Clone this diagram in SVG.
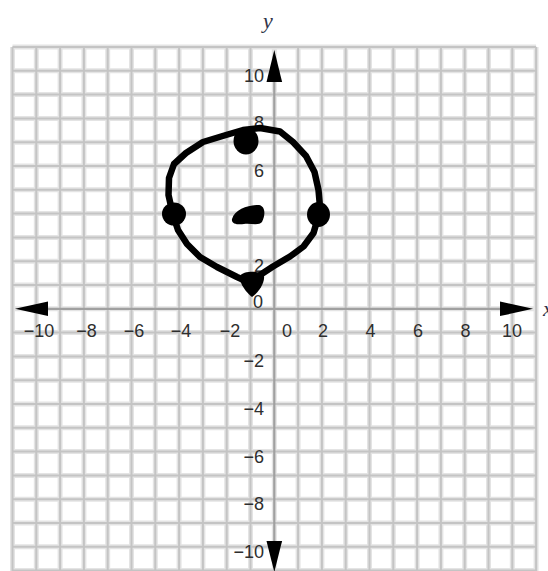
<svg xmlns="http://www.w3.org/2000/svg" width="548" height="571" viewBox="0 0 548 571">
<style>
.halo{stroke:#e4e4e4;stroke-width:5;fill:none}
.grid{stroke:#c4c4c4;stroke-width:2;fill:none}
.axis{stroke:#a0a0a0;stroke-width:2.2;fill:none}
.lbl{font-family:"Liberation Sans",Arial,sans-serif;font-size:18px;fill:#2e2e2e}
.xl{text-anchor:middle}
.yl{text-anchor:end}
.var{font-family:"Liberation Serif","Times New Roman",serif;font-style:italic;font-size:22px;fill:#2f3348}
.ink{fill:#000}
</style>
<rect width="548" height="571" fill="#fff"/>
<g id="grid">
<path class="halo" d="M12.5 47V571M36.3 47V571M60.1 47V571M83.9 47V571M107.7 47V571M131.5 47V571M155.3 47V571M179.1 47V571M202.9 47V571M226.7 47V571M250.5 47V571M274.3 47V571M298.1 47V571M321.9 47V571M345.7 47V571M369.5 47V571M393.3 47V571M417.1 47V571M440.9 47V571M464.7 47V571M488.5 47V571M512.3 47V571M536.1 47V571M12.5 47H536.1M12.5 70.8H536.1M12.5 94.6H536.1M12.5 118.4H536.1M12.5 142.2H536.1M12.5 166H536.1M12.5 189.8H536.1M12.5 213.6H536.1M12.5 237.4H536.1M12.5 261.2H536.1M12.5 285H536.1M12.5 308.8H536.1M12.5 332.6H536.1M12.5 356.4H536.1M12.5 380.2H536.1M12.5 404H536.1M12.5 427.8H536.1M12.5 451.6H536.1M12.5 475.4H536.1M12.5 499.2H536.1M12.5 523H536.1M12.5 546.8H536.1M12.5 570.6H536.1"/>
<path class="grid" d="M12.5 47V571M36.3 47V571M60.1 47V571M83.9 47V571M107.7 47V571M131.5 47V571M155.3 47V571M179.1 47V571M202.9 47V571M226.7 47V571M250.5 47V571M298.1 47V571M321.9 47V571M345.7 47V571M369.5 47V571M393.3 47V571M417.1 47V571M440.9 47V571M464.7 47V571M488.5 47V571M512.3 47V571M536.1 47V571M12.5 47H536.1M12.5 70.8H536.1M12.5 94.6H536.1M12.5 118.4H536.1M12.5 142.2H536.1M12.5 166H536.1M12.5 189.8H536.1M12.5 213.6H536.1M12.5 237.4H536.1M12.5 261.2H536.1M12.5 285H536.1M12.5 332.6H536.1M12.5 356.4H536.1M12.5 380.2H536.1M12.5 404H536.1M12.5 427.8H536.1M12.5 451.6H536.1M12.5 475.4H536.1M12.5 499.2H536.1M12.5 523H536.1M12.5 546.8H536.1M12.5 570.6H536.1"/>
</g>
<g id="axes">
<path class="axis" d="M30 308.8H520M274.3 65V560"/>
<polygon class="ink" points="15,308.8 48,301.5 48,316.1"/>
<polygon class="ink" points="533,308.8 500,301.5 500,316.1"/>
<polygon class="ink" points="274.3,50 266.5,82 282.1,82"/>
<polygon class="ink" points="274.3,572 266.5,541 282.1,541"/>
<text class="var" x="263" y="28">y</text>
<text class="var" x="543" y="316">x</text>
</g>
<g id="x-labels" class="lbl xl">
<text x="39" y="336.5">−10</text>
<text x="86.5" y="336.5">−8</text>
<text x="134" y="336.5">−6</text>
<text x="181" y="336.5">−4</text>
<text x="230" y="336.5">−2</text>
<text x="287" y="336.5">0</text>
<text x="323" y="336.5">2</text>
<text x="370.5" y="336.5">4</text>
<text x="418" y="336.5">6</text>
<text x="465.5" y="336.5">8</text>
<text x="512" y="336.5">10</text>
</g>
<g id="y-labels" class="lbl yl">
<text x="264" y="81.8">10</text>
<text x="264" y="129.4">8</text>
<text x="264" y="177">6</text>
<text x="264" y="272.2">2</text>
<text x="263" y="308">0</text>
<text x="264" y="367.4">−2</text>
<text x="264" y="415">−4</text>
<text x="264" y="462.6">−6</text>
<text x="264" y="510.2">−8</text>
<text x="264" y="558">−10</text>
</g>
<g id="circle">
<path d="M173 215L168.5 195L169 178L174 164L186 153L203 142L226 135L243 130L260 128L280 131.5L293 142L306 156L314.5 172L318.5 190L320 207L318.5 216L313.5 233L303.5 246.5L290 256.5L273 266.5L257 277L250 283L237 277L217 267L200 257L187 244L178 230Z" fill="none" stroke="#000" stroke-width="6.5" stroke-linejoin="round"/>
</g>
<g id="points" class="ink">
<ellipse id="p-top" cx="246" cy="141" rx="12.5" ry="13.5"/>
<ellipse id="p-left" cx="174" cy="214" rx="12" ry="11.5"/>
<ellipse id="p-right" cx="318.5" cy="214.5" rx="11.5" ry="12.5"/>
<path id="p-bottom" d="M240 276C242 271 262 270 264 276C265 283 258 293 252 297C246 292 239 283 240 276Z"/>
<path id="p-center" d="M232 219C235 209 249 205 259 205C265 206 266 214 262 222C259 226 250 223 244 224C238 225 231 224 232 219Z"/>
</g>
</svg>
